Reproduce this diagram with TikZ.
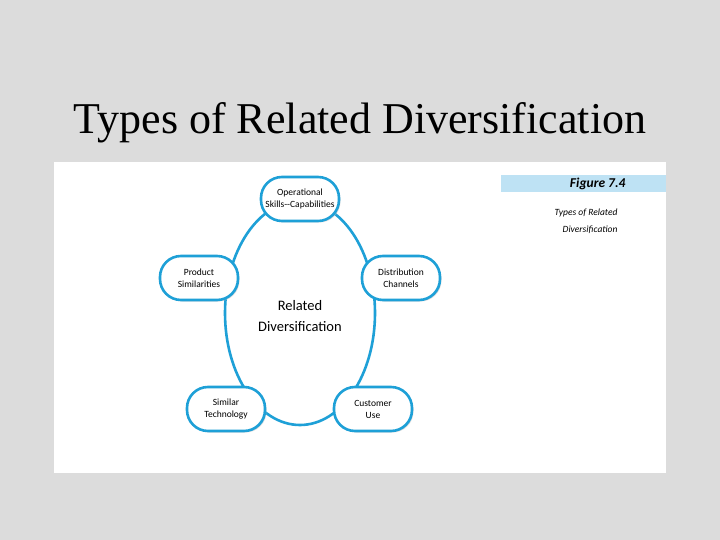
\documentclass[tikz,border=0pt]{standalone}
\usepackage{fontspec}
\setmainfont{Liberation Serif}
\newfontfamily\figsans{Carlito}
\usetikzlibrary{shadows}
\definecolor{bg}{RGB}{220,220,220}
\definecolor{fblue}{RGB}{30,160,215}
\definecolor{barblue}{RGB}{190,226,244}
\tikzset{
  pill/.style={draw=fblue, line width=2.6pt, fill=white, rounded corners=21pt,
    minimum width=78pt, minimum height=44pt, align=center, font=\figsans\fontsize{9.5}{12}\selectfont,
    drop shadow={shadow xshift=1.5pt, shadow yshift=-1.5pt, fill=black!25}},
}
\begin{document}
\begin{tikzpicture}[x=1pt,y=-1pt]
\fill[bg] (0,0) rectangle (720,540);
\useasboundingbox (0,0) rectangle (720,540);
\node[font=\fontsize{44}{48}\selectfont] (title) at (360,123) {Types of Related Diversification};
\fill[white] (54,162) rectangle (666,473);
\fill[barblue] (501,175) rectangle (666,192);
\node[anchor=east, font=\figsans\bfseries\itshape\fontsize{13.5}{14}\selectfont] (fig) at (629,184) {Figure 7.4};
\node[anchor=north east, align=right, font=\figsans\itshape\fontsize{9.5}{17}\selectfont] (cap) at (621,205) {Types of Related\\Diversification};
\draw[fblue, line width=2.6pt] (300,313) ellipse [x radius=75, y radius=112];
\node[font=\figsans\fontsize{14.5}{21}\selectfont, align=center] (center) at (300,316) {Related\\Diversification};
\node[pill] (op) at (300,199) {Operational\\Skills--Capabilities};
\node[pill] (prod) at (199,278) {Product\\Similarities};
\node[pill] (dist) at (401,278) {Distribution\\Channels};
\node[pill] (tech) at (226,409) {Similar\\Technology};
\node[pill] (cust) at (373,409) {Customer\\Use};
\end{tikzpicture}
\end{document}
